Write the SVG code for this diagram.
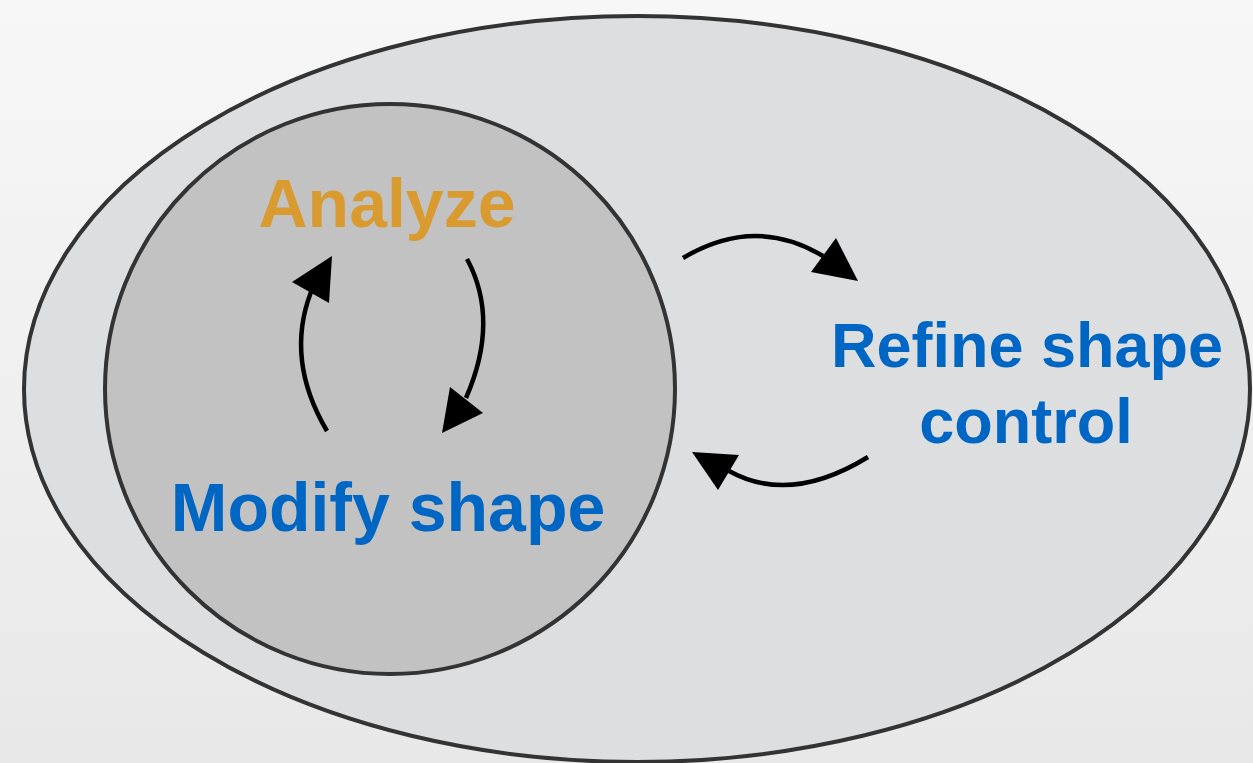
<svg xmlns="http://www.w3.org/2000/svg" width="1253" height="763" viewBox="0 0 1253 763">
  <defs>
    <linearGradient id="bg" x1="0" y1="0" x2="0" y2="1">
      <stop offset="0" stop-color="#f7f7f7"/>
      <stop offset="1" stop-color="#e8e8e8"/>
    </linearGradient>
    <style>
      .ring { stroke: #333333; stroke-width: 4; }
      .lbl { font-family: "Liberation Sans", Arial, Helvetica, sans-serif; font-weight: bold; text-anchor: middle; }
      .blue { fill: #0066c4; }
      .orange { fill: #d99a2f; }
      .arc { fill: none; stroke: #000000; stroke-width: 4.5; }
      .head { fill: #000000; }
    </style>
  </defs>

  <rect x="0" y="0" width="1253" height="763" fill="url(#bg)"/>

  <!-- outer region: refine shape control -->
  <g id="outer">
    <ellipse class="ring" cx="637" cy="389" rx="613" ry="373" fill="#dddee0"/>
    <text class="lbl blue" x="1027" y="367" font-size="63">Refine shape</text>
    <text class="lbl blue" x="1026" y="443" font-size="63">control</text>
  </g>

  <!-- inner region: analyze / modify loop -->
  <g id="inner">
    <circle class="ring" cx="390" cy="389" r="285" fill="#c2c2c2"/>
  </g>

  <g id="analyze">
    <text class="lbl orange" x="387" y="227" font-size="68">Analyze</text>
  </g>

  <g id="modify">
    <text class="lbl blue" x="388" y="531" font-size="68">Modify shape</text>
  </g>

  <!-- connectors -->
  <g id="connectors">
    <path class="arc" d="M327,431 Q285,360 311,292"/>
    <polygon class="head" points="332,256 292,282 329,303"/>

    <path class="arc" d="M467,259 Q500,320 466,398"/>
    <polygon class="head" points="442,433 450,387 483,413"/>

    <path class="arc" d="M683,258 Q755,215 823,256"/>
    <polygon class="head" points="858,281 836,238 811,272"/>

    <path class="arc" d="M868,457 Q790,505 729,471"/>
    <polygon class="head" points="692,452 739,455 718,490"/>
  </g>
</svg>
